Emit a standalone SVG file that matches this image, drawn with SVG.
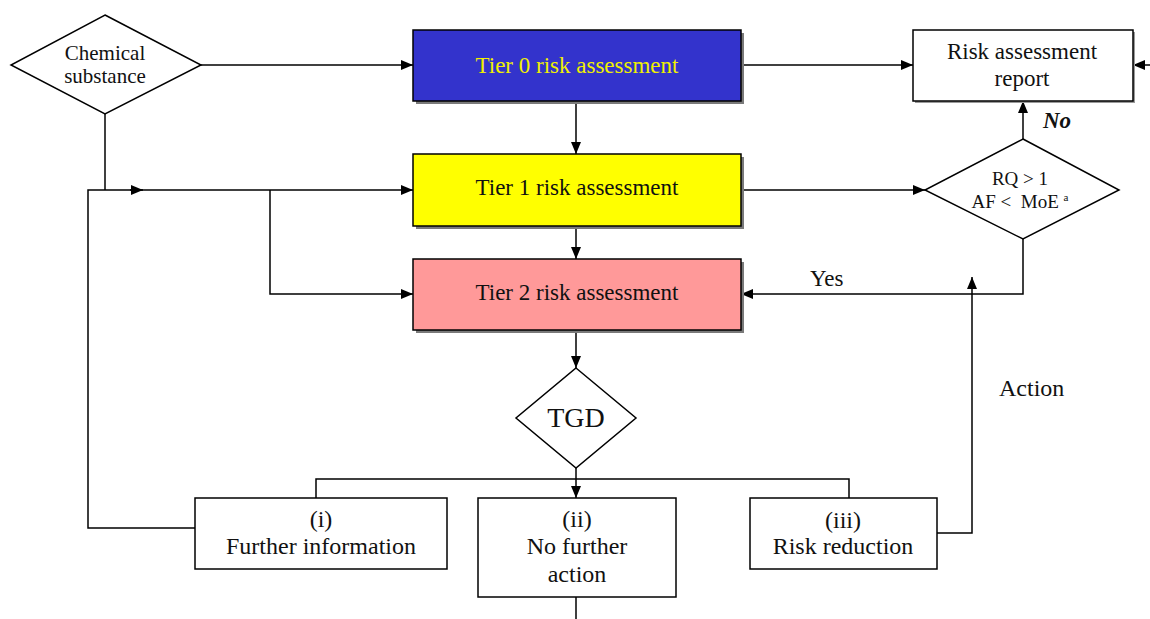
<svg xmlns="http://www.w3.org/2000/svg" width="1150" height="619" viewBox="0 0 1150 619">
  <style>
    text { font-family: "Liberation Serif", "Times New Roman", serif; fill: #111; }
    .c { text-anchor: middle; }
    .box { stroke: #000; stroke-width: 1.5; }
    .plain { fill: #fff; stroke: #000; stroke-width: 1.5; }
    .shadow { fill: #7a7a7a; }
    .wire { fill: none; stroke: #000; stroke-width: 1.5; }
    .arr { fill: none; stroke: #000; stroke-width: 1.5; marker-end: url(#head); }
  </style>
  <defs>
    <marker id="head" viewBox="0 0 12 10" refX="12" refY="5" markerWidth="12" markerHeight="10" markerUnits="userSpaceOnUse" orient="auto">
      <path d="M0,0 L12,5 L0,10 Z" fill="#000"/>
    </marker>
  </defs>

  <rect width="1150" height="619" fill="#fff"/>

  <g id="connectors">
    <!-- chemical substance to tier 0 -->
    <line class="arr" x1="201" y1="65" x2="413" y2="65"/>
    <!-- tier 0 to report -->
    <line class="arr" x1="741" y1="65" x2="913" y2="65"/>
    <!-- incoming from right edge -->
    <line class="arr" x1="1150" y1="65" x2="1133" y2="65"/>
    <!-- tier 0 to tier 1 -->
    <line class="arr" x1="576" y1="101" x2="576" y2="154"/>
    <!-- tier 1 to tier 2 -->
    <line class="arr" x1="576" y1="226" x2="576" y2="259"/>
    <!-- tier 2 to TGD -->
    <line class="arr" x1="576" y1="330" x2="576" y2="368"/>
    <!-- chemical substance down to feedback line -->
    <line class="wire" x1="105" y1="114" x2="105" y2="190"/>
    <!-- further information loop back to tier 1 -->
    <polyline class="wire" points="195,528 88,528 88,190 142,190"/>
    <line class="arr" x1="130" y1="190" x2="143" y2="190"/>
    <line class="arr" x1="142" y1="190" x2="413" y2="190"/>
    <!-- branch to tier 2 -->
    <polyline class="arr" points="270,190 270,294 413,294"/>
    <!-- tier 1 to decision -->
    <line class="arr" x1="741" y1="190" x2="925" y2="190"/>
    <!-- decision No to report -->
    <line class="arr" x1="1023" y1="139" x2="1023" y2="101"/>
    <!-- decision Yes back to tier 2 -->
    <polyline class="arr" points="1023,239 1023,294 741,294"/>
    <!-- risk reduction action back up -->
    <polyline class="arr" points="937,533 972,533 972,277"/>
    <!-- TGD split to outcomes -->
    <line class="arr" x1="576" y1="468" x2="576" y2="498"/>
    <polyline class="wire" points="316,498 316,479 849,479 849,498"/>
    <!-- no further action continues down -->
    <line class="wire" x1="576" y1="597" x2="576" y2="619"/>
  </g>

  <g id="chemical-substance">
    <polygon class="plain" points="105,15 201,65 105,114 11,65"/>
    <text class="c" x="105" y="60" font-size="21">Chemical</text>
    <text class="c" x="105" y="83" font-size="21">substance</text>
  </g>

  <g id="tier0">
    <rect class="shadow" x="416" y="33" width="328" height="71"/>
    <rect class="box" x="413" y="30" width="328" height="71" fill="#3333cc"/>
    <text class="c" x="577" y="73" font-size="23" style="fill:#f0f000">Tier 0 risk assessment</text>
  </g>

  <g id="tier1">
    <rect class="shadow" x="416" y="157" width="328" height="72"/>
    <rect class="box" x="413" y="154" width="328" height="72" fill="#ffff00"/>
    <text class="c" x="577" y="195" font-size="23">Tier 1 risk assessment</text>
  </g>

  <g id="tier2">
    <rect class="shadow" x="416" y="262" width="328" height="71"/>
    <rect class="box" x="413" y="259" width="328" height="71" fill="#ff9999"/>
    <text class="c" x="577" y="300" font-size="23">Tier 2 risk assessment</text>
  </g>

  <g id="report">
    <rect x="915" y="32" width="220" height="71" fill="#9a9a9a"/>
    <rect class="plain" x="913" y="30" width="220" height="71"/>
    <text class="c" x="1022" y="59" font-size="23">Risk assessment</text>
    <text class="c" x="1022" y="86" font-size="23">report</text>
  </g>

  <g id="decision">
    <polygon class="plain" points="1023,139 1119,190 1023,239 925,190"/>
    <text class="c" x="1020" y="185" font-size="19">RQ &gt; 1</text>
    <text class="c" x="1020" y="208" font-size="19">AF &lt;&#160; MoE <tspan font-size="11" dy="-7">a</tspan></text>
  </g>

  <g id="labels">
    <text x="1043" y="128" font-size="23" font-weight="bold" font-style="italic">No</text>
    <text x="810" y="286" font-size="23">Yes</text>
    <text x="999" y="396" font-size="24">Action</text>
  </g>

  <g id="tgd">
    <polygon class="plain" points="576,368 636,418 576,468 516,418"/>
    <text class="c" x="576" y="427" font-size="28">TGD</text>
  </g>

  <g id="further-information">
    <rect class="plain" x="195" y="498" width="252" height="71"/>
    <text class="c" x="321" y="527" font-size="24">(i)</text>
    <text class="c" x="321" y="554" font-size="24">Further information</text>
  </g>

  <g id="no-further-action">
    <rect class="plain" x="478" y="498" width="198" height="99"/>
    <text class="c" x="577" y="527" font-size="24">(ii)</text>
    <text class="c" x="577" y="554" font-size="24">No further</text>
    <text class="c" x="577" y="582" font-size="24">action</text>
  </g>

  <g id="risk-reduction">
    <rect class="plain" x="750" y="498" width="187" height="71"/>
    <text class="c" x="843" y="528" font-size="24">(iii)</text>
    <text class="c" x="843" y="554" font-size="24">Risk reduction</text>
  </g>
</svg>
